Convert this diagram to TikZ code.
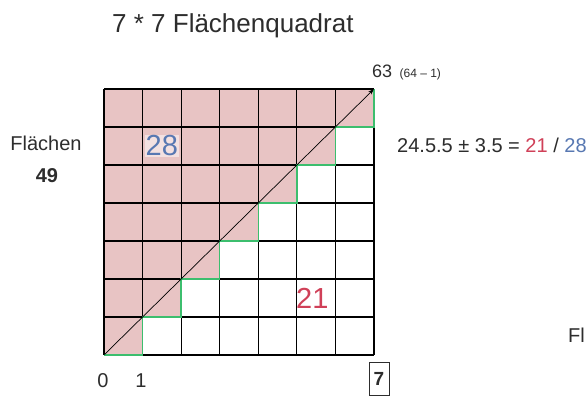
\documentclass[tikz,border=0pt]{standalone}
\usepackage{fontspec}
\setmainfont{Liberation Sans}
\usepackage{xcolor}
\usetikzlibrary{arrows.meta}

\definecolor{cellpink}{RGB}{232,196,196}
\definecolor{stairgreen}{RGB}{60,190,110}
\definecolor{inkgray}{RGB}{45,45,45}
\definecolor{numred}{RGB}{208,64,88}
\definecolor{numblue}{RGB}{88,120,178}
\definecolor{boxviolet}{RGB}{150,128,190}

\begin{document}
\begin{tikzpicture}[
    x=1pt,
    y=1pt,
    txt/.style={
        inkgray,
        inner sep=0pt,
        font=\fontsize{20}{24}\selectfont
    },
    cellfill/.style={
        fill=cellpink
    },
    gridline/.style={
        black,
        line width=1.2pt
    },
    stair/.style={
        stairgreen,
        line width=1.4pt
    },
    diag/.style={
        black,
        line width=0.7pt,
        -{Stealth[length=6pt,width=4pt]}
    },
    cellnum/.style={
        inner sep=1pt,
        font=\fontsize{29}{32}\selectfont
    }
]


\path[fill=white, use as bounding box] (0,0) rectangle (587,398);


\node[txt, anchor=base west, font=\fontsize{26}{30}\selectfont] (title) at (112,365) {7 * 7 Flächenquadrat};


\begin{scope}[shift={(104pt,43pt)}, x=38.57pt, y=38pt]
    \foreach \r in {0,...,6}
        \fill[cellfill] (0,\r) rectangle (\r+1,\r+1);

    \draw[gridline, step=1] (0,0) grid (7,7);

    \draw[stair] (0,0) \foreach \k in {1,...,7} { -- (\k,\k-1) -- (\k,\k) };

    \coordinate (origin) at (0,0);
    \coordinate (corner) at (7,7);
    \draw[diag] (origin) -- (corner);

    \node[cellnum, numblue, fill=white, fill opacity=0.5, text opacity=1] (upper) at (1.5,5.5) {28};
    \node[cellnum, numred] (lower) at (5.4,1.5) {21};
\end{scope}


\node[txt, anchor=base west, font=\fontsize{18}{22}\selectfont] (total) at (372,320) {63};
\node[txt, anchor=base west, font=\fontsize{12}{14}\selectfont] (totalnote) at ([xshift=7pt]total.base east) {(64 – 1)};

\node[txt, anchor=base] (areas) at (46,247) {Flächen};
\node[txt, anchor=base, font=\bfseries\fontsize{20}{24}\selectfont] (areacount) at (47,215) {49};

\node[txt, anchor=base west] (rule) at (397,245) {24.5.5 ± 3.5 = \textcolor{numred}{21} / \textcolor{numblue}{28}};


\node[txt, anchor=base] (tick0) at (103,10) {0};
\node[txt, anchor=base] (tick1) at (141,10) {1};
\node[draw=boxviolet, line width=1pt, inner sep=0pt, minimum width=20pt, minimum height=33pt,
      inkgray, font=\bfseries\fontsize{19}{22}\selectfont] (side) at (379,19) {7};

\node[txt, anchor=base west] (cut) at (568,55) {Fl};

\end{tikzpicture}
\end{document}
